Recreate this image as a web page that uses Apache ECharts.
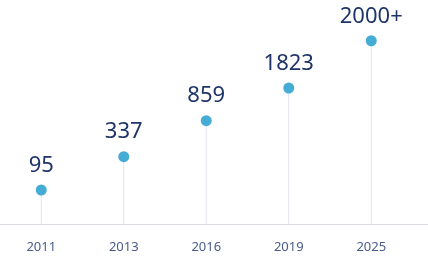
<!DOCTYPE html>
<html><head><meta charset="utf-8">
<script src="https://cdn.jsdelivr.net/npm/echarts@6/dist/echarts.min.js"></script>
<style>html,body{margin:0;padding:0;background:#fff}#c{width:428px;height:257px}</style>
</head><body><div id="c"></div>
<script>
const years = ['2011', '2013', '2016', '2019', '2025'];
const valueLabels = ['95', '337', '859', '1823', '2000+'];
// plotted heights (chart is not to scale)
const heights = [1.0, 1.98, 3.04, 4.0, 5.39];

const chart = echarts.init(document.getElementById('c'), null, {renderer: 'canvas'});
chart.setOption({
  animation: false,
  grid: [
    {left: -2.5, width: 415, top: 20, bottom: 33},
    {left: 0, right: 0, top: 20, bottom: 33}
  ],
  xAxis: [
    {type: 'category', gridIndex: 0, data: years,
     axisLine: {show: false}, axisTick: {show: false},
     axisLabel: {margin: 17, fontSize: 13, color: '#4a5b8c', fontFamily: 'Noto Sans'}},
    {type: 'category', gridIndex: 1, data: years,
     axisLine: {show: true, lineStyle: {color: '#dcdde3', width: 1}},
     axisTick: {show: false}, axisLabel: {show: false}}
  ],
  yAxis: [
    {type: 'value', gridIndex: 0, min: 0, max: 6, show: false, splitLine: {show: false}},
    {type: 'value', gridIndex: 1, min: 0, max: 6, show: false, splitLine: {show: false}}
  ],
  series: [
    {type: 'bar', xAxisIndex: 0, yAxisIndex: 0, data: heights, barWidth: 1,
     itemStyle: {color: '#e2e5ee'}, silent: true},
    {type: 'scatter', xAxisIndex: 0, yAxisIndex: 0, data: heights, symbol: 'circle', symbolSize: 11,
     itemStyle: {color: '#45acd6', opacity: 1},
     label: {show: true, position: 'top', distance: 8,
       formatter: p => valueLabels[p.dataIndex],
       fontSize: 22, color: '#1f3468', fontFamily: 'Noto Sans'}}
  ]
});
</script></body></html>
